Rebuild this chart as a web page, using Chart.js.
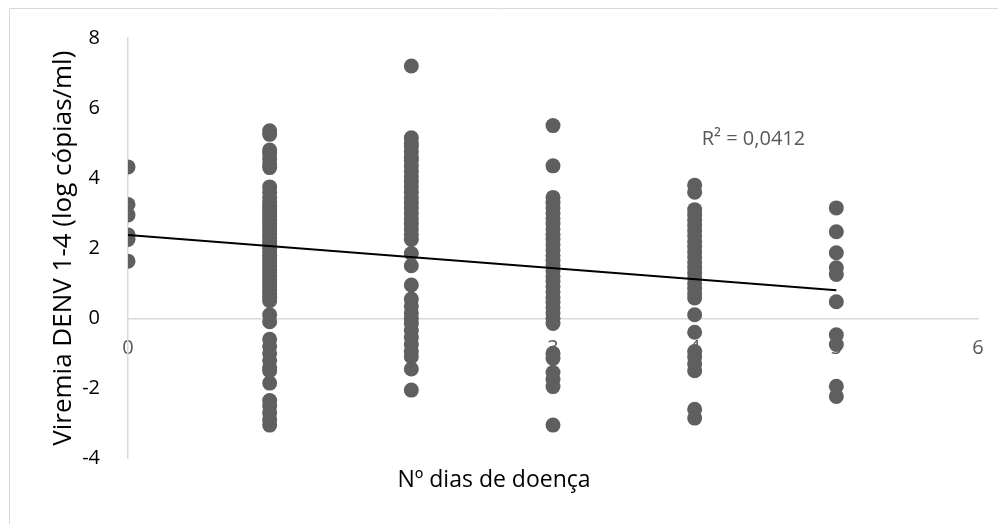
<!DOCTYPE html>
<html>
<head>
<meta charset="utf-8">
<script src="https://cdn.jsdelivr.net/npm/chart.js@4.4.1/dist/chart.umd.min.js"></script>
<style>
  html, body { margin: 0; padding: 0; background: #fff; }
  #wrap { width: 998px; height: 524px; position: relative; }
</style>
</head>
<body>
<div id="wrap"><canvas id="chart" width="998" height="524"></canvas></div>
<script>
// Dados: viremia (log cópias/ml) por nº de dias de doença
const dia0 = [4.32, 3.25, 2.95, 2.38, 2.25, 1.63];
const dia1 = [5.35, 5.25, 4.8, 4.7, 4.55, 4.4, 4.3, 3.75, 3.6, 3.45, 3.3, 3.2, 3.1, 3.0, 2.9, 2.8,
              2.7, 2.6, 2.5, 2.4, 2.3, 2.2, 2.1, 2.0, 1.9, 1.8, 1.7, 1.6, 1.5, 1.4, 1.3, 1.2, 1.1,
              1.0, 0.9, 0.8, 0.7, 0.6, 0.5, 0.1, -0.1, -0.6, -0.8, -1.0, -1.2, -1.4, -1.5, -1.85,
              -2.35, -2.5, -2.7, -2.9, -3.05];
const dia2 = [7.2, 5.15, 5.0, 4.9, 4.75, 4.6, 4.5, 4.35, 4.2, 4.05, 3.9, 3.75, 3.6, 3.45, 3.3, 3.15,
              3.0, 2.85, 2.7, 2.55, 2.4, 2.25, 1.85, 1.5, 0.95, 0.55, 0.35, 0.15, 0.0, -0.15, -0.35,
              -0.55, -0.75, -0.95, -1.1, -1.45, -2.05];
const dia3 = [5.5, 4.35, 3.45, 3.3, 3.15, 3.0, 2.85, 2.7, 2.55, 2.4, 2.25, 2.1, 1.95, 1.8, 1.65, 1.5,
              1.35, 1.2, 1.05, 0.9, 0.75, 0.6, 0.45, 0.3, 0.15, 0.0, -0.15, -1.0, -1.15, -1.55,
              -1.75, -1.95, -3.05];
const dia4 = [3.8, 3.6, 3.1, 2.95, 2.8, 2.65, 2.5, 2.35, 2.2, 2.05, 1.9, 1.75, 1.6, 1.45, 1.3, 1.15,
              1.0, 0.85, 0.7, 0.58, 0.1, -0.4, -0.95, -1.1, -1.3, -1.5, -2.6, -2.85];
const dia5 = [3.15, 2.47, 1.87, 1.44, 1.25, 0.47, -0.47, -0.75, -1.94, -2.23];

// Linha de tendência (linear)
const tendX = [0, 5];
const tendY = [2.38, 0.8];
const r2Label = 'R² = 0,0412';

const xTicks = [0, 1, 2, 3, 4, 5, 6];
const yTicks = [-4, -2, 0, 2, 4, 6, 8];

const grupos = [dia0, dia1, dia2, dia3, dia4, dia5];
const pontos = [];
grupos.forEach((vals, d) => vals.forEach(v => pontos.push({ x: d, y: v })));

const FONT = '"Open Sans", "Liberation Sans", sans-serif';
const GRAY = '#595959';
const AXIS = '#d9d9d9';

// moldura (só bordas esquerda e superior aparecem na imagem)
const frame = {
    id: 'frame',
    beforeDraw(chart) {
        const c = chart.ctx;
        c.save();
        c.strokeStyle = AXIS;
        c.lineWidth = 1;
        c.beginPath();
        c.moveTo(9.5, 524);
        c.lineTo(9.5, 8.5);
        c.lineTo(998, 8.5);
        c.stroke();
        c.restore();
    }
};

// texto do R²
const r2Text = {
    id: 'r2Text',
    afterDatasetsDraw(chart) {
        const c = chart.ctx;
        const xs = chart.scales.x, ys = chart.scales.y;
        c.save();
        c.font = '20px ' + FONT;
        c.fillStyle = GRAY;
        c.textAlign = 'left';
        c.textBaseline = 'middle';
        c.fillText(r2Label, xs.getPixelForValue(4.05), ys.getPixelForValue(5.1));
        c.restore();
    }
};

new Chart(document.getElementById('chart'), {
    type: 'scatter',
    data: {
        datasets: [
            {
                label: 'Viremia',
                data: pontos,
                backgroundColor: '#5f5f5f',
                borderWidth: 0,
                pointRadius: 7.5,
                order: 2
            },
            {
                label: 'Tendência',
                type: 'line',
                data: tendX.map((x, i) => ({ x: x, y: tendY[i] })),
                borderColor: '#000',
                borderWidth: 2,
                pointRadius: 0,
                fill: false,
                order: 1
            }
        ]
    },
    options: {
        responsive: false,
        animation: false,
        layout: { padding: { left: 10, right: 20, top: 38, bottom: 30 } },
        plugins: {
            legend: { display: false },
            tooltip: { enabled: false },
            title: {
                display: true,
                position: 'bottom',
                text: 'Nº dias de doença',
                color: '#000',
                font: { family: FONT, size: 23, weight: 'normal' },
                padding: { top: 8, bottom: 0 }
            }
        },
        scales: {
            x: {
                type: 'linear',
                position: { y: 0 },
                min: 0, max: 6,
                afterBuildTicks: s => { s.ticks = xTicks.map(v => ({ value: v })); },
                grid: { display: false },
                border: { display: true, color: AXIS, width: 1.5 },
                ticks: { color: GRAY, font: { family: FONT, size: 20 }, padding: 10 }
            },
            y: {
                min: -4, max: 8,
                afterBuildTicks: s => { s.ticks = yTicks.map(v => ({ value: v })); },
                afterFit: s => { s.width = 118; },
                grid: { display: false },
                border: { display: true, color: AXIS, width: 1.5 },
                ticks: { color: '#000', font: { family: FONT, size: 20 }, padding: 20 },
                title: {
                    display: true,
                    text: 'Viremia DENV 1-4 (log cópias/ml)',
                    color: '#000',
                    font: { family: FONT, size: 26, weight: 'normal' },
                    padding: { top: 38, bottom: 0 }
                }
            }
        }
    },
    plugins: [frame, r2Text]
});
</script>
</body>
</html>
